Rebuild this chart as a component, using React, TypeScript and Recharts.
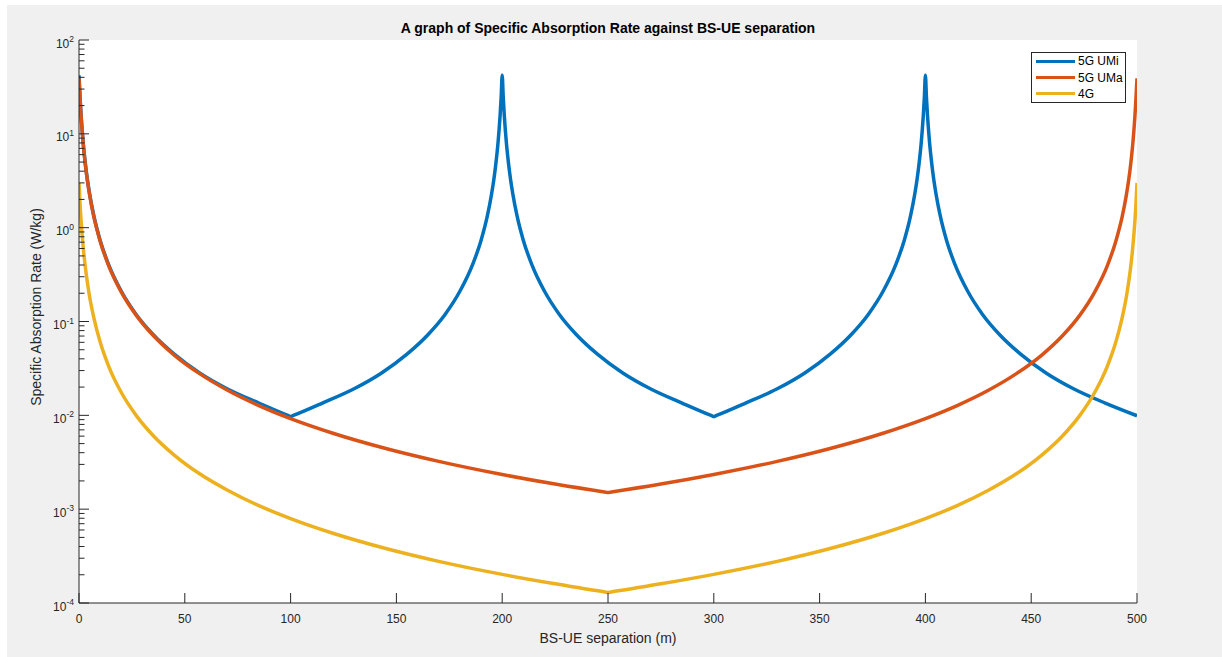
import { LineChart, Line, XAxis, YAxis, CartesianGrid, Legend } from 'recharts'

const FONT = '"Liberation Sans", Arial, Helvetica, sans-serif'
const AXIS = '#262626'

const seriesNames = ['5G UMi', '5G UMa', '4G']

// BS-UE separation (m) sampled for the UMi curve (base stations at 0, 200, 400 m)
const umiSeparation = [
  0, 0.5, 1, 1.5, 2, 3, 4, 5, 7, 10, 14, 20, 27, 35, 45, 57, 70, 85, 99, 100,
  101, 115, 130, 143, 155, 165, 173, 180, 186, 190, 193, 195, 196, 197, 198, 198.5, 199, 199.5, 200,
  200.5, 201, 201.5, 202, 203, 204, 205, 207, 210, 214, 220, 227, 235, 245, 257, 270, 285, 299, 300,
  301, 315, 330, 343, 355, 365, 373, 380, 386, 390, 393, 395, 396, 397, 398, 398.5, 399, 399.5, 400,
  400.5, 401, 401.5, 402, 403, 404, 405, 407, 410, 414, 420, 427, 435, 445, 457, 470, 485, 500,
]
const umiSar = [
  42, 24.3, 15.5, 10.8, 7.9, 4.8, 3.2, 2.3, 1.34, 0.73, 0.404, 0.21, 0.119, 0.0728, 0.0449, 0.0283, 0.0192, 0.0135, 0.0099, 0.0097,
  0.0099, 0.0135, 0.0192, 0.0283, 0.0449, 0.0728, 0.119, 0.21, 0.404, 0.73, 1.34, 2.3, 3.2, 4.8, 7.9, 10.8, 15.5, 24.3, 42,
  24.3, 15.5, 10.8, 7.9, 4.8, 3.2, 2.3, 1.34, 0.73, 0.404, 0.21, 0.119, 0.0728, 0.0449, 0.0283, 0.0192, 0.0135, 0.0099, 0.0097,
  0.0099, 0.0135, 0.0192, 0.0283, 0.0449, 0.0728, 0.119, 0.21, 0.404, 0.73, 1.34, 2.3, 3.2, 4.8, 7.9, 10.8, 15.5, 24.3, 42,
  24.3, 15.5, 10.8, 7.9, 4.8, 3.2, 2.3, 1.34, 0.73, 0.404, 0.21, 0.119, 0.0728, 0.0449, 0.0283, 0.0192, 0.0135, 0.0099,
]

// UMa and 4G (base stations at 0 and 500 m)
const edgeSeparation = [
  0, 0.5, 1, 1.5, 2, 3, 4, 5, 7, 10, 14, 20, 27, 35, 45, 57, 70, 85, 100, 120, 145, 170, 200, 225, 249, 250,
  251, 275, 300, 330, 355, 380, 400, 415, 430, 443, 455, 465, 473, 480, 486, 490, 493, 495, 496, 497, 498, 498.5, 499, 499.5, 500,
]
const umaSar = [
  39, 23.8, 15.2, 10.6, 7.76, 4.69, 3.14, 2.25, 1.31, 0.718, 0.395, 0.206, 0.117, 0.0713, 0.0439, 0.0278, 0.0186, 0.0127, 0.00922,
  0.00644, 0.00443, 0.00323, 0.00234, 0.00185, 0.001514, 0.001502,
  0.001514, 0.00185, 0.00234, 0.00323, 0.00443, 0.00644, 0.00922, 0.0127, 0.0186, 0.0278, 0.0439, 0.0713, 0.117, 0.206, 0.395, 0.718,
  1.31, 2.25, 3.14, 4.69, 7.76, 10.6, 15.2, 23.8, 39,
]
const lteSar = [
  3.0, 1.77, 1.17, 0.826, 0.616, 0.379, 0.257, 0.185, 0.11, 0.0604, 0.0335, 0.0175, 0.00999, 0.0061, 0.00377, 0.00238, 0.0016,
  0.00109, 0.000794, 0.000554, 0.000381, 0.000278, 0.000202, 0.00016, 0.0001305, 0.0001295,
  0.0001305, 0.00016, 0.000202, 0.000278, 0.000381, 0.000554, 0.000794, 0.00109, 0.0016, 0.00238, 0.00377, 0.0061, 0.00999, 0.0175, 0.0335,
  0.0604, 0.11, 0.185, 0.257, 0.379, 0.616, 0.826, 1.17, 1.77, 3.0,
]

const separationTicks = [0, 50, 100, 150, 200, 250, 300, 350, 400, 450, 500]
const sarDecades = [1e-4, 1e-3, 1e-2, 1e-1, 1, 10, 100]
const sarMinor = sarDecades.slice(0, -1).flatMap((d) => [2, 3, 4, 5, 6, 7, 8, 9].map((m) => m * d))
const sarTicks = [...sarDecades, ...sarMinor].sort((a, b) => a - b)

const umiData = umiSeparation.map((x, i) => ({ x, sar: umiSar[i] }))
const umaData = edgeSeparation.map((x, i) => ({ x, sar: umaSar[i] }))
const lteData = edgeSeparation.map((x, i) => ({ x, sar: lteSar[i] }))

const tickLen = (v: number) => (sarDecades.includes(v) ? 10 : 5.5)

const LeftTick = ({ x, y, payload }: any) => {
  const v = payload.value
  const ax = x + 5
  return (
    <g>
      <line x1={ax} x2={ax + tickLen(v)} y1={y} y2={y} stroke={AXIS} strokeWidth={1} />
      {sarDecades.includes(v) && (
        <text x={x} y={y + 7.5} textAnchor="end" fontSize={12} fill={AXIS}>
          10
          <tspan dy={-5.5} fontSize={8.5}>
            {Math.round(Math.log10(v))}
          </tspan>
        </text>
      )}
    </g>
  )
}

const RightTick = ({ x, y, payload }: any) => (
  <line x1={x} x2={x - tickLen(payload.value)} y1={y} y2={y} stroke={AXIS} strokeWidth={1} />
)

const BottomTick = ({ x, y, payload }: any) => (
  <g>
    <line x1={x} x2={x} y1={y} y2={y - 10} stroke={AXIS} strokeWidth={1} />
    <text x={x} y={y + 20} textAnchor="middle" fontSize={12} fill={AXIS}>
      {payload.value}
    </text>
  </g>
)

const TopTick = ({ x, y }: any) => (
  <line x1={x} x2={x} y1={y} y2={y + 10} stroke={AXIS} strokeWidth={1} />
)

const LegendBox = ({ payload }: any) => {
  const items = [...(payload || [])].sort(
    (a: any, b: any) => seriesNames.indexOf(a.value) - seriesNames.indexOf(b.value)
  )
  return (
    <div
      style={{
        boxSizing: 'border-box',
        width: 95,
        height: 51,
        border: `1px solid ${AXIS}`,
        background: '#fff',
      }}
    >
      {items.map((e: any) => (
        <div key={e.value} style={{ display: 'flex', alignItems: 'center', height: 16.4, paddingLeft: 4 }}>
          <span style={{ display: 'inline-block', width: 39, height: 3, background: e.color, marginRight: 3 }} />
          <span style={{ fontSize: 12, lineHeight: '14px', color: '#000' }}>{e.value}</span>
        </div>
      ))}
    </div>
  )
}

export default function App() {
  return (
    <div style={{ position: 'absolute', left: 0, top: 0, width: 1222, height: 657, background: '#fff', fontFamily: FONT }}>
      <div style={{ position: 'absolute', left: 7, top: 5, width: 1215, height: 652, background: '#f0f0f0' }}>
        <LineChart width={1215} height={652} margin={{ top: 35, right: 85, bottom: 0, left: 0 }}>
          <CartesianGrid fill="#fff" horizontal={false} vertical={false} />
          <XAxis
            dataKey="x"
            type="number"
            domain={[0, 500]}
            allowDataOverflow
            ticks={separationTicks}
            interval={0}
            height={54}
            tickSize={0}
            tickMargin={0}
            tickLine={false}
            axisLine={{ stroke: AXIS }}
            tick={BottomTick}
          />
          <XAxis
            xAxisId="top"
            orientation="top"
            mirror
            type="number"
            domain={[0, 500]}
            allowDataOverflow
            ticks={separationTicks}
            interval={0}
            height={0}
            tickSize={0}
            tickMargin={0}
            tickLine={false}
            axisLine={{ stroke: AXIS }}
            tick={TopTick}
          />
          <YAxis
            scale="log"
            domain={[1e-4, 100]}
            allowDataOverflow
            ticks={sarTicks}
            interval={0}
            width={72}
            tickSize={0}
            tickMargin={5}
            tickLine={false}
            axisLine={{ stroke: AXIS }}
            tick={LeftTick}
          />
          <YAxis
            yAxisId="right"
            orientation="right"
            mirror
            scale="log"
            domain={[1e-4, 100]}
            allowDataOverflow
            ticks={sarTicks}
            interval={0}
            width={0}
            tickSize={0}
            tickMargin={0}
            tickLine={false}
            axisLine={{ stroke: AXIS }}
            tick={RightTick}
          />
          <Line type="monotone" data={umiData} dataKey="sar" name={seriesNames[0]} stroke="#0072BD" strokeWidth={3.5} dot={false} isAnimationActive={false} />
          <Line type="monotone" data={umaData} dataKey="sar" name={seriesNames[1]} stroke="#D95319" strokeWidth={3.5} dot={false} isAnimationActive={false} />
          <Line type="monotone" data={lteData} dataKey="sar" name={seriesNames[2]} stroke="#EDB120" strokeWidth={3.5} dot={false} isAnimationActive={false} />
          <Legend
            layout="vertical"
            align="center"
            verticalAlign="middle"
            content={LegendBox}
            wrapperStyle={{ left: 1024, top: 47, width: 95, height: 51 }}
          />
        </LineChart>
        <div
          style={{
            position: 'absolute',
            left: 201,
            top: 15,
            width: 800,
            textAlign: 'center',
            fontSize: 14,
            lineHeight: '16px',
            fontWeight: 'bold',
            color: '#000',
          }}
        >
          A graph of Specific Absorption Rate against BS-UE separation
        </div>
        <div
          style={{
            position: 'absolute',
            left: 401,
            top: 625,
            width: 400,
            textAlign: 'center',
            fontSize: 14,
            lineHeight: '16px',
            color: AXIS,
          }}
        >
          BS-UE separation (m)
        </div>
        <div
          style={{
            position: 'absolute',
            left: 29 - 150,
            top: 302 - 8,
            width: 300,
            height: 16,
            textAlign: 'center',
            fontSize: 14,
            lineHeight: '16px',
            color: AXIS,
            transform: 'rotate(-90deg)',
          }}
        >
          Specific Absorption Rate (W/kg)
        </div>
      </div>
    </div>
  )
}
